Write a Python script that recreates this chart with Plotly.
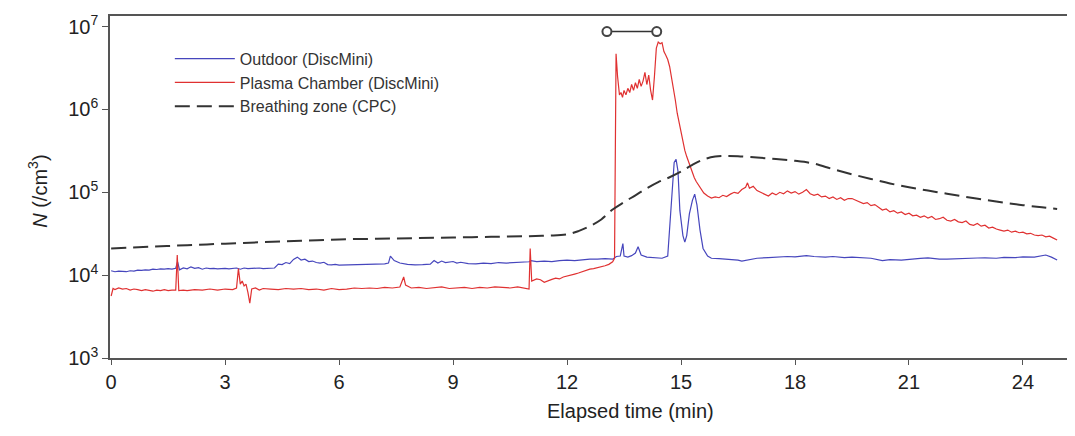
import plotly.graph_objects as go

# ---------------- data ----------------
outdoor_t = [0.0, 0.1, 0.2, 0.3, 0.4, 0.5, 0.6, 0.7, 0.8, 0.9, 1.0, 1.1, 1.2, 1.3, 1.4, 1.5, 1.6, 1.7, 1.75, 1.8,
             1.9, 2.0, 2.1, 2.2, 2.3, 2.4, 2.5, 2.6, 2.7, 2.8, 2.9, 3.0, 3.1, 3.2, 3.3, 3.4, 3.5, 3.6, 3.7, 3.8,
             3.9, 4.0, 4.1, 4.2, 4.3, 4.4, 4.5, 4.6, 4.7, 4.8, 4.9, 5.0, 5.1, 5.2, 5.3, 5.4, 5.5, 5.6, 5.7, 5.8,
             5.9, 6.0, 6.2, 6.4, 6.6, 6.8, 7.0, 7.2, 7.3, 7.35, 7.45, 7.6, 7.8, 8.0, 8.2, 8.4, 8.5, 8.6, 8.7, 8.8,
             9.0, 9.1, 9.2, 9.4, 9.6, 9.8, 10.0, 10.2, 10.4, 10.6, 10.8, 11.0, 11.05, 11.2, 11.4, 11.6, 11.8, 12.0, 12.2, 12.4,
             12.6, 12.8, 13.0, 13.2, 13.3, 13.4, 13.47, 13.5, 13.6, 13.7, 13.8, 13.87, 13.95, 14.1, 14.3, 14.5, 14.65, 14.75, 14.82, 14.87,
             14.92, 14.97, 15.05, 15.1, 15.15, 15.22, 15.3, 15.36, 15.42, 15.5, 15.58, 15.7, 15.8, 16.0, 16.2, 16.5, 16.6, 16.8, 17.0, 17.3,
             17.5, 17.8, 18.0, 18.3, 18.5, 18.8, 19.0, 19.3, 19.5, 19.8, 20.0, 20.3, 20.5, 20.8, 21.0, 21.3, 21.5, 21.8, 22.0, 22.3,
             22.5, 22.8, 23.0, 23.3, 23.5, 23.8, 24.0, 24.3, 24.6, 24.75, 24.9]
outdoor_n = [11300, 11000, 11200, 11100, 11000, 11300, 11200, 11500, 11400, 11600, 11500, 11800, 11700, 11900, 11800, 12000, 11800, 12100, 14500, 11600,
             12200, 11900, 12600, 12100, 12300, 11800, 12200, 12000, 12100, 11900, 12000, 12100, 11900, 12000, 12200, 11800, 12200, 12000, 12100, 12000,
             12200, 12000, 12100, 12000, 12200, 13600, 13400, 14200, 13800, 15500, 16500, 15200, 15600, 14600, 14800, 14200, 14000, 14300, 13400, 13300,
             13500, 13200, 13300, 13200, 13500, 13400, 13600, 13700, 14000, 17000, 15000, 14000, 13500, 13300, 13400, 13600, 15000, 14000, 14800, 14200,
             14600, 14000, 14300, 13800, 13700, 14000, 13800, 14200, 14000, 14100, 14400, 14500, 15000, 14600, 14800, 14600, 15000, 15200, 15000, 15400,
             15600, 15600, 15800, 15600, 16800, 17000, 24000, 17000, 16500, 17200, 18500, 22000, 17500, 16500, 16200, 16000, 17000, 80000, 230000, 250000,
             180000, 60000, 30000, 25000, 30000, 55000, 80000, 95000, 70000, 35000, 21000, 17000, 16000, 15800, 15600, 15200, 14800, 15500, 16000, 16300,
             16500, 16800, 16600, 17200, 16800, 16500, 16800, 16300, 16500, 16000, 16000, 15000, 15400, 15200, 15600, 15900, 16200, 15600, 15600, 15900,
             15800, 16100, 16200, 16000, 16400, 16300, 16600, 16500, 17500, 16500, 15200]

chamber_t = [0.0, 0.05, 0.1, 0.2, 0.3, 0.4, 0.5, 0.6, 0.7, 0.8, 0.9, 1.0, 1.1, 1.2, 1.3, 1.4, 1.5, 1.6, 1.7, 1.74,
             1.78, 1.9, 2.0, 2.2, 2.4, 2.6, 2.8, 3.0, 3.2, 3.3, 3.35, 3.4, 3.45, 3.5, 3.55, 3.6, 3.65, 3.7, 3.8, 3.9,
             4.0, 4.2, 4.4, 4.6, 4.8, 5.0, 5.2, 5.4, 5.6, 5.8, 6.0, 6.2, 6.4, 6.6, 6.8, 7.0, 7.2, 7.4, 7.6, 7.7,
             7.75, 7.9, 8.1, 8.3, 8.5, 8.7, 8.9, 9.1, 9.3, 9.5, 9.7, 9.9, 10.1, 10.3, 10.5, 10.7, 10.9, 11.0, 11.03, 11.07,
             11.2, 11.3, 11.4, 11.5, 11.6, 11.7, 11.8, 11.9, 12.0, 12.1, 12.2, 12.3, 12.4, 12.5, 12.6, 12.7, 12.8, 12.9, 13.0, 13.1,
             13.2, 13.25, 13.27, 13.29, 13.33, 13.38, 13.42, 13.46, 13.5, 13.55, 13.6, 13.65, 13.7, 13.75, 13.8, 13.85, 13.9, 13.95, 14.0, 14.05,
             14.1, 14.15, 14.2, 14.25, 14.3, 14.35, 14.4, 14.45, 14.5, 14.55, 14.6, 14.65, 14.7, 14.75, 14.8, 14.85, 14.9, 14.95, 15.0, 15.05,
             15.1, 15.15, 15.2, 15.25, 15.3, 15.35, 15.4, 15.45, 15.5, 15.55, 15.6, 15.7, 15.8, 15.9, 16.0, 16.1, 16.2, 16.3, 16.4, 16.5,
             16.6, 16.7, 16.75, 16.8, 16.9, 17.0, 17.1, 17.2, 17.3, 17.4, 17.5, 17.6, 17.7, 17.8, 17.9, 18.0, 18.1, 18.2, 18.3, 18.4,
             18.5, 18.6, 18.7, 18.8, 18.9, 19.0, 19.1, 19.2, 19.3, 19.4, 19.5, 19.6, 19.7, 19.8, 19.9, 20.0, 20.1, 20.2, 20.3, 20.4,
             20.5, 20.6, 20.7, 20.8, 20.9, 21.0, 21.1, 21.2, 21.3, 21.4, 21.5, 21.6, 21.7, 21.8, 21.9, 22.0, 22.1, 22.2, 22.3, 22.4,
             22.5, 22.6, 22.7, 22.8, 22.9, 23.0, 23.1, 23.2, 23.3, 23.4, 23.5, 23.6, 23.7, 23.8, 23.9, 24.0, 24.1, 24.2, 24.3, 24.4,
             24.5, 24.6, 24.7, 24.8, 24.9]
chamber_n = [5600, 6900, 6700, 7000, 6800, 6900, 6600, 6800, 6700, 6500, 6700, 6600, 6400, 6600, 6500, 6700, 6500, 6600, 6600, 17500,
             6500, 6600, 6500, 6700, 6600, 6800, 6600, 6800, 6700, 7000, 12000, 7800, 8500, 7400, 7800, 6200, 4600, 6800, 7000, 6600,
             6900, 6800, 6700, 6900, 6800, 6900, 6700, 6800, 6600, 6900, 6700, 6800, 7000, 6900, 7000, 6900, 7100, 7000, 7200, 9500,
             7600, 7000, 7100, 6900, 7000, 7200, 6900, 7000, 7100, 6900, 7100, 7000, 7200, 7100, 7000, 7200, 7000, 6800, 21000, 8500,
             9000, 8800, 8200, 8600, 8900, 9200, 9000, 9500, 9700, 10000, 10300, 10600, 11000, 11400, 11800, 12000, 12300, 12500, 13000, 13500,
             14500, 16000, 800000, 4700000, 2500000, 1500000, 1600000, 1400000, 1700000, 1500000, 1800000, 1600000, 2000000, 1700000, 2100000, 1800000, 2300000, 1900000, 2200000, 2800000,
             2000000, 2600000, 1700000, 1300000, 2500000, 5500000, 6500000, 6200000, 6400000, 5000000, 4500000, 4000000, 3300000, 2500000, 1800000, 1300000, 900000, 700000, 520000, 400000,
             320000, 270000, 230000, 200000, 170000, 150000, 135000, 125000, 115000, 105000, 98000, 90000, 85000, 88000, 86000, 92000, 89000, 95000, 100000, 97000,
             108000, 115000, 130000, 112000, 118000, 105000, 100000, 95000, 90000, 98000, 93000, 100000, 96000, 104000, 98000, 102000, 95000, 100000, 108000, 96000,
             92000, 95000, 88000, 90000, 84000, 88000, 82000, 86000, 80000, 84000, 84000, 80000, 76000, 73000, 75000, 69000, 71000, 65000, 61000, 63000,
             58000, 60000, 56000, 58000, 54000, 56000, 52000, 53000, 50000, 52000, 49000, 51000, 47000, 48000, 50000, 46000, 45000, 47000, 44000, 43000,
             45000, 41000, 40000, 42000, 39000, 40000, 37000, 38000, 36000, 35000, 34000, 35000, 33000, 34000, 32500, 33000, 31500, 32000, 30500, 30000,
             30500, 29000, 29500, 28000, 26500]

cpc_t = [0, 1, 2, 3, 4, 5, 6, 7, 8, 9, 10, 11, 11.5, 12, 12.3, 12.6, 12.9, 13.2, 13.5, 13.8,
         14.1, 14.4, 14.7, 15.0, 15.3, 15.6, 15.9, 16.2, 16.5, 17.0, 17.5, 18.0, 18.5, 19.0, 19.5, 20.0, 20.5, 21.0, 21.5, 22.0,
         22.5, 23.0, 23.5, 24.0, 24.5, 24.9]
cpc_n = [21000, 22000, 23000, 24000, 25000, 26000, 27000, 27500, 28000, 28500, 29000, 29500, 30000, 31000, 34000, 39000, 47000, 62000, 76000, 92000,
         112000, 133000, 152000, 178000, 215000, 250000, 270000, 275000, 273000, 263000, 252000, 240000, 222000, 190000, 165000, 145000, 128000, 115000, 105000, 96000,
         88000, 81000, 75000, 70000, 66000, 63000]

plasma_on_t = [13.05, 14.36]
plasma_on_n = [8.7e6, 8.7e6]

x_ticks = [0, 3, 6, 9, 12, 15, 18, 21, 24]
y_ticks = [1e3, 1e4, 1e5, 1e6, 1e7]
y_tick_text = ["10<sup>3</sup>", "10<sup>4</sup>", "10<sup>5</sup>", "10<sup>6</sup>", "10<sup>7</sup>"]

FONT = "Liberation Sans, Arial, sans-serif"
AXC = "#555555"

fig = go.Figure()
fig.add_trace(go.Scatter(x=outdoor_t, y=outdoor_n, mode="lines", name="Outdoor (DiscMini)",
                         line=dict(color="#4646bd", width=1.2)))
fig.add_trace(go.Scatter(x=chamber_t, y=chamber_n, mode="lines", name="Plasma Chamber (DiscMini)",
                         line=dict(color="#e03131", width=1.2)))
fig.add_trace(go.Scatter(x=cpc_t, y=cpc_n, mode="lines", name="Breathing zone (CPC)",
                         line=dict(color="#333333", width=2, dash="15px,7px", shape="spline")))
fig.add_trace(go.Scatter(x=plasma_on_t, y=plasma_on_n, mode="lines+markers", showlegend=False,
                         line=dict(color="#333333", width=1.5),
                         marker=dict(symbol="circle", size=9, color="white", line=dict(color="#444444", width=2)),
                         cliponaxis=False))

# the page body adds an 8px offset, so margins are shifted to compensate
fig.update_layout(
    width=1075, height=436,
    margin=dict(l=102, r=8, t=4, b=86),
    paper_bgcolor="white", plot_bgcolor="white",
    font=dict(family=FONT, size=18, color="#222222"),
    showlegend=True,
    legend=dict(x=0.062, y=0.925, xanchor="left", yanchor="top", bgcolor="rgba(0,0,0,0)",
                font=dict(size=16, color="#333333"), itemwidth=60, tracegroupgap=0),
    xaxis=dict(range=[-0.03, 25.37], tickvals=x_ticks, ticks="outside", ticklen=5, tickwidth=1.2,
               tickcolor=AXC, showline=True, linecolor=AXC, linewidth=1.6, mirror=True,
               showgrid=False, zeroline=False, tickfont=dict(size=20, color="#222222")),
    yaxis=dict(type="log", range=[3, 7.128], tickvals=y_ticks, ticktext=y_tick_text,
               ticks="outside", ticklen=6, tickwidth=1.2, tickcolor=AXC, showline=True,
               linecolor=AXC, linewidth=1.6, showgrid=False, zeroline=False,
               tickfont=dict(size=20, color="#222222")),
    annotations=[
        dict(text="Elapsed time (min)", xref="paper", yref="paper", x=0.539, y=-0.156,
             xanchor="center", yanchor="middle", showarrow=False, font=dict(size=20, color="#222222")),
        dict(text="<i>N</i> (/cm<sup>3</sup>)", xref="paper", yref="paper", x=-0.0746,
             y=0.486, xanchor="center", yanchor="middle", textangle=-90, showarrow=False,
             font=dict(size=20, color="#222222")),
    ],
)

fig.write_html("out.html")
